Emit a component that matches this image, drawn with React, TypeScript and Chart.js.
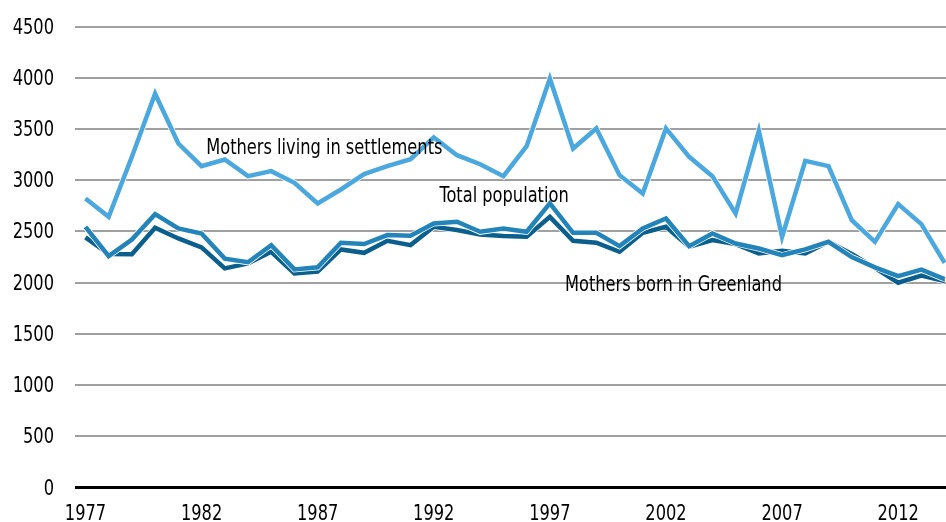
import React, { useEffect, useRef } from "react";
import { Chart, registerables } from "chart.js";

Chart.register(...registerables);

const years = [
  1977, 1978, 1979, 1980, 1981, 1982, 1983, 1984, 1985, 1986, 1987, 1988, 1989,
  1990, 1991, 1992, 1993, 1994, 1995, 1996, 1997, 1998, 1999, 2000, 2001, 2002,
  2003, 2004, 2005, 2006, 2007, 2008, 2009, 2010, 2011, 2012, 2013, 2014,
];

const settlements = [
  2823, 2643, 3229, 3845, 3359, 3138, 3203, 3040, 3089, 2975, 2774, 2910, 3060,
  3138, 3206, 3418, 3245, 3157, 3040, 3333, 3993, 3310, 3506, 3050, 2871, 3506,
  3229, 3040, 2676, 3483, 2448, 3190, 3138, 2611, 2399, 2767, 2572, 2194,
];

const totalPopulation = [
  2546, 2260, 2422, 2669, 2530, 2481, 2235, 2200, 2367, 2130, 2150, 2390, 2377,
  2465, 2458, 2579, 2595, 2497, 2530, 2497, 2774, 2487, 2487, 2357, 2530, 2627,
  2357, 2481, 2383, 2334, 2270, 2325, 2399, 2250, 2150, 2065, 2127, 2035,
];

const bornInGreenland = [
  2442, 2280, 2279, 2536, 2432, 2345, 2140, 2188, 2302, 2090, 2108, 2325, 2292,
  2409, 2367, 2546, 2514, 2471, 2455, 2448, 2643, 2409, 2390, 2302, 2487, 2546,
  2350, 2416, 2377, 2286, 2312, 2286, 2399, 2280, 2145, 2000, 2070, 2015,
];

const xTickLabels = [1977, 1982, 1987, 1992, 1997, 2002, 2007, 2012];
const yTickLabels = [0, 500, 1000, 1500, 2000, 2500, 3000, 3500, 4000, 4500];

const seriesNames = [
  "Mothers living in settlements",
  "Total population",
  "Mothers born in Greenland",
];

// label anchors in data coordinates (year, value at text baseline)
const labelAnchors = [
  { text: seriesNames[0], year: 1982.2, value: 3255 },
  { text: seriesNames[1], year: 1992.25, value: 2790 },
  { text: seriesNames[2], year: 1997.65, value: 1921 },
];

const FONT = '"DejaVu Sans Condensed", "DejaVu Sans", sans-serif';
const FONT_SIZE = 22;
const SQUEEZE = 0.82; // horizontal compression to mimic a condensed face

const toPoints = (vals: number[]) => vals.map((v, i) => ({ x: years[i], y: v }));

const drawSqueezed = (ctx: any, text: string, x: number, y: number, align: string) => {
  ctx.save();
  ctx.translate(x, y);
  ctx.scale(SQUEEZE, 1);
  ctx.textAlign = align;
  ctx.textBaseline = "alphabetic";
  ctx.fillText(text, 0, 0);
  ctx.restore();
};

const whiteOutline = {
  id: "whiteOutline",
  beforeDatasetDraw(chart: any, args: any) {
    const pts = args.meta.data;
    if (!pts || pts.length < 2) return;
    const ctx = chart.ctx;
    ctx.save();
    ctx.beginPath();
    ctx.moveTo(pts[0].x, pts[0].y);
    for (let i = 1; i < pts.length; i++) ctx.lineTo(pts[i].x, pts[i].y);
    ctx.strokeStyle = "#ffffff";
    ctx.lineWidth = (chart.data.datasets[args.index].borderWidth || 3) + 1.5;
    ctx.lineJoin = "miter";
    ctx.stroke();
    ctx.restore();
  },
};

const textLayer = {
  id: "textLayer",
  afterDatasetsDraw(chart: any) {
    const ctx = chart.ctx;
    const xs = chart.scales.x;
    const ys = chart.scales.y;
    ctx.save();
    ctx.font = `${FONT_SIZE}px ${FONT}`;
    ctx.fillStyle = "#000000";
    ys.ticks.forEach((t: any) => {
      drawSqueezed(ctx, String(t.value), ys.right - 21, ys.getPixelForValue(t.value) + 7, "right");
    });
    xs.ticks.forEach((t: any) => {
      drawSqueezed(ctx, String(t.value), xs.getPixelForValue(t.value), xs.top + 32, "center");
    });
    labelAnchors.forEach((a) => {
      drawSqueezed(ctx, a.text, xs.getPixelForValue(a.year), ys.getPixelForValue(a.value), "left");
    });
    ctx.restore();
  },
};

export default function App() {
  const ref = useRef<HTMLCanvasElement | null>(null);

  useEffect(() => {
    if (!ref.current) return;
    const chart = new Chart(ref.current, {
      type: "line",
      data: {
        datasets: [
          {
            label: seriesNames[0],
            data: toPoints(settlements),
            borderColor: "#4aa8de",
            borderWidth: 4.5,
            pointRadius: 0,
            tension: 0,
          },
          {
            label: seriesNames[1],
            data: toPoints(totalPopulation),
            borderColor: "#2384ba",
            borderWidth: 4.5,
            pointRadius: 0,
            tension: 0,
          },
          {
            label: seriesNames[2],
            data: toPoints(bornInGreenland),
            borderColor: "#0a5f8c",
            borderWidth: 4.5,
            pointRadius: 0,
            tension: 0,
          },
        ],
      },
      options: {
        animation: false,
        responsive: false,
        layout: { padding: { top: 26.6, right: 0, bottom: 0, left: 0 } },
        plugins: {
          legend: { display: false },
          tooltip: { enabled: false },
        },
        scales: {
          x: {
            type: "linear",
            min: 1976.55,
            max: 2014.06,
            grid: { display: false },
            border: { display: false },
            afterBuildTicks: (scale: any) => {
              scale.ticks = xTickLabels.map((v) => ({ value: v }));
            },
            afterFit: (scale: any) => {
              scale.height = 34.4;
            },
            ticks: { display: false },
          },
          y: {
            type: "linear",
            min: 0,
            max: 4500,
            border: { display: false },
            afterBuildTicks: (scale: any) => {
              scale.ticks = yTickLabels.map((v) => ({ value: v }));
            },
            afterFit: (scale: any) => {
              scale.width = 75;
            },
            grid: {
              drawTicks: false,
              color: (c: any) => (c.tick && c.tick.value === 0 ? "#000000" : "#a0a0a0"),
              lineWidth: (c: any) => (c.tick && c.tick.value === 0 ? 3 : 2),
            },
            ticks: { display: false },
          },
        },
      },
      plugins: [whiteOutline, textLayer],
    });
    return () => chart.destroy();
  }, []);

  return (
    <div style={{ position: "fixed", left: 0, top: 0, width: 946, height: 522, background: "#ffffff" }}>
      <canvas ref={ref} width={946} height={522} style={{ display: "block" }} />
    </div>
  );
}
